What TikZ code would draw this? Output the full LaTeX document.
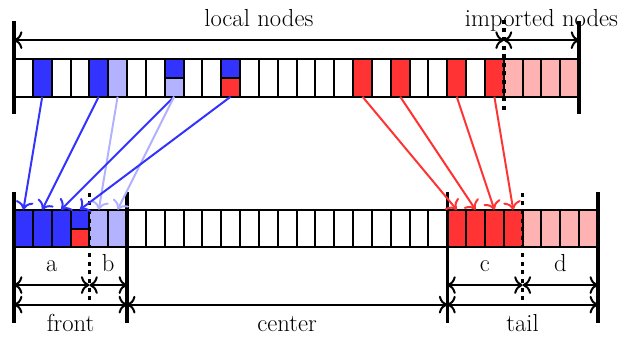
\documentclass[tikz,border=0pt]{standalone}
\usepackage{color}
\usepackage{amsmath}
\usepackage{tikz}
\usetikzlibrary{arrows.meta}

\colorlet{fullblue}{blue!80}
\colorlet{paleblue}{blue!30}
\colorlet{fullred}{red!80}
\colorlet{palered}{red!30}

\begin{document}
\begin{tikzpicture}[x=0.5cm, y=1cm,
  font=\fontsize{18.6}{22}\selectfont,
  cell/.style={line width=1.5pt},
  bar/.style={line width=2.6pt},
  sep/.style={line width=2.6pt, dash pattern=on 3pt off 3.5pt},
  dim/.style={line width=1.5pt, {To[scale=1.3]}-{To[scale=1.3]}},
  link/.style={line width=1.5pt, -{To[scale=1.3]}}]

\useasboundingbox (-0.743,0) rectangle (32.54,8.966);

% cells of the upper row (26 local + 4 imported)
\foreach \i in {0,...,29} {
  \coordinate (t\i) at (\i+0.5,6.4);
}
% cells of the lower row (front, center, tail)
\foreach \i in {0,...,30} {
  \coordinate (b\i) at (\i+0.5,3.4);
}

\foreach \i in {1,4} \fill[fullblue] (\i,6.4) rectangle ++(1,1);
\fill[paleblue] (5,6.4) rectangle ++(1,1);
\fill[fullblue] (8,6.9) rectangle ++(1,0.5);
\fill[paleblue] (8,6.4) rectangle ++(1,0.5);
\fill[fullblue] (11,6.9) rectangle ++(1,0.5);
\fill[fullred] (11,6.4) rectangle ++(1,0.5);
\foreach \i in {18,20,23,25} \fill[fullred] (\i,6.4) rectangle ++(1,1);
\fill[palered] (26,6.4) rectangle (30,7.4);

\fill[fullblue] (0,2.4) rectangle (3,3.4);
\fill[fullblue] (3,2.9) rectangle ++(1,0.5);
\fill[fullred] (3,2.4) rectangle ++(1,0.5);
\fill[paleblue] (4,2.4) rectangle (6,3.4);
\fill[fullred] (23,2.4) rectangle (27,3.4);
\fill[palered] (27,2.4) rectangle (31,3.4);

\draw[cell] (0,6.4) rectangle (30,7.4);
\foreach \i in {1,...,29} \draw[cell] (\i,6.4) -- (\i,7.4);
\draw[cell] (8,6.9) -- (9,6.9);
\draw[cell] (11,6.9) -- (12,6.9);

\draw[cell] (0,2.4) rectangle (31,3.4);
\foreach \i in {1,...,30} \draw[cell] (\i,2.4) -- (\i,3.4);
\draw[cell] (3,2.9) -- (4,2.9);

% boundaries
\coordinate (s0) at (0,0);
\coordinate (s4) at (4,0);
\coordinate (s6) at (6,0);
\coordinate (s23) at (23,0);
\coordinate (s27) at (27,0);
\coordinate (s31) at (31,0);
\coordinate (u0) at (0,0);
\coordinate (u26) at (26,0);
\coordinate (u30) at (30,0);

\draw[bar] (0,5.95) -- (0,8.4);
\draw[bar] (30,5.95) -- (30,8.4);
\draw[sep] (26,6.05) -- (26,8.5);

\foreach \x in {0,6,23,31} \draw[bar] (\x,0.4) -- (\x,3.87);
\foreach \x in {4,27} \draw[sep] (\x,1.0) -- (\x,3.87);

% extents
\coordinate (top) at (0,7.9);
\coordinate (ab) at (0,1.4);
\coordinate (all) at (0,0.88);

\draw[dim] (u0 |- top) -- (u26 |- top);
\draw[dim] (u26 |- top) -- (u30 |- top);
\node[anchor=base] at (13,8.27) {local nodes};
\node[anchor=base] at (28,8.27) {imported nodes};

\draw[dim] (s0 |- ab) -- (s4 |- ab);
\draw[dim] (s4 |- ab) -- (s6 |- ab);
\draw[dim] (s23 |- ab) -- (s27 |- ab);
\draw[dim] (s27 |- ab) -- (s31 |- ab);
\node[anchor=base] at (2,1.75) {a};
\node[anchor=base] at (5,1.75) {b};
\node[anchor=base] at (25,1.75) {c};
\node[anchor=base] at (29,1.75) {d};

\draw[dim] (s0 |- all) -- (s6 |- all);
\draw[dim] (s6 |- all) -- (s23 |- all);
\draw[dim] (s23 |- all) -- (s31 |- all);
\node[anchor=base] at (3,0.16) {front};
\node[anchor=base] at (14.5,0.16) {center};
\node[anchor=base] at (27,0.16) {tail};

% copies into the lower row
\draw[link, fullblue] (t1) -- (b0);
\draw[link, fullblue] (t4) -- (b1);
\draw[link, paleblue] (t5) -- (b4);
\draw[link, fullblue] (t8) -- (b2);
\draw[link, paleblue] (t8) -- (b5);
\draw[link, fullblue] (t11) -- (b3);
\draw[link, fullred] (t18) -- (b23);
\draw[link, fullred] (t20) -- (b24);
\draw[link, fullred] (t23) -- (b25);
\draw[link, fullred] (t25) -- (b26);

\end{tikzpicture}
\end{document}
